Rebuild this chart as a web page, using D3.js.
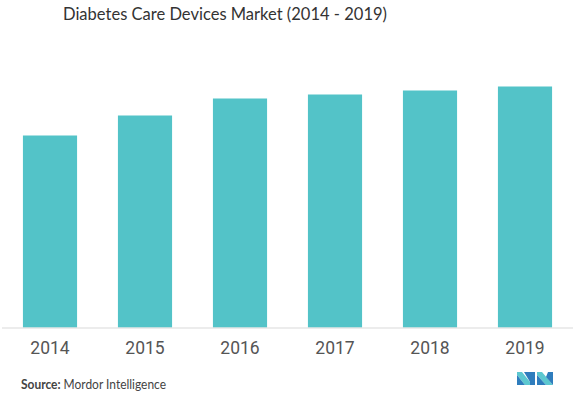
<!DOCTYPE html>
<html>
<head>
<meta charset="utf-8">
<script src="https://cdn.jsdelivr.net/npm/d3@7"></script>
<style>
  html, body { margin: 0; padding: 0; background: #fff; }
  svg { display: block; }
</style>
</head>
<body>
<div id="chart"></div>
<script>
// chart data (no y axis in the original, values read as relative bar heights)
const years = ['2014', '2015', '2016', '2017', '2018', '2019'];
const values = [19.2, 21.2, 22.9, 23.3, 23.7, 24.1];
const title = 'Diabetes Care Devices Market (2014 - 2019)';

const width = 576;
const height = 399;
const baseline = 327.5;

const svg = d3.select('#chart').append('svg')
  .attr('width', width)
  .attr('height', height);

const x = d3.scaleBand()
  .domain(years)
  .range([2.5, 572.5])
  .paddingInner(0.43)
  .paddingOuter(0.215);

const y = d3.scaleLinear()
  .domain([0, 30])
  .range([baseline, baseline - 300]);

// title
svg.append('text')
  .attr('x', 63)
  .attr('y', 20)
  .style('font', '18px Lato, "Open Sans", sans-serif')
  .attr('fill', '#333')
  .attr('textLength', 324)
  .attr('lengthAdjust', 'spacingAndGlyphs')
  .text(title);

// bars
svg.append('g')
  .selectAll('rect')
  .data(values)
  .join('rect')
  .attr('x', (d, i) => x(years[i]))
  .attr('y', d => y(d))
  .attr('width', x.bandwidth())
  .attr('height', d => y(0) - y(d))
  .attr('fill', '#53c3c8');

// baseline + year labels
const axis = svg.append('g')
  .attr('transform', `translate(0,${baseline})`)
  .call(d3.axisBottom(x).tickSize(0).tickPadding(14));

axis.select('.domain')
  .attr('stroke', '#d9d9d9')
  .attr('d', `M${2},0.5H${573}`);

axis.selectAll('.tick text')
  .style('font', '17.5px "Liberation Sans Narrow", "Roboto", sans-serif')
  .attr('fill', '#555');

// source line
const src = svg.append('text')
  .attr('x', 21)
  .attr('y', 389)
  .style('font', '12.5px Lato, "Open Sans", sans-serif')
  .attr('fill', '#444')
  .attr('textLength', 145)
  .attr('lengthAdjust', 'spacingAndGlyphs');
src.append('tspan').attr('font-weight', 'bold').text('Source:');
src.append('tspan').text(' Mordor Intelligence');

// logo
const logo = svg.append('g').attr('transform', 'translate(517,372)');
logo.append('path').attr('d', 'M0,0H5L13,10V13H8L0,3Z').attr('fill', '#5cc8d0');
logo.append('path').attr('d', 'M0,3L8,13H0Z').attr('fill', '#2f7dbd');
logo.append('path').attr('d', 'M10,0H18V13H13V10L7,0Z').attr('fill', '#2f7dbd');
logo.append('path').attr('d', 'M20,0H25L36,13H29L20,3Z').attr('fill', '#5cc8d0');
logo.append('path').attr('d', 'M20,3L29,13H20Z').attr('fill', '#2f7dbd');
logo.append('path').attr('d', 'M31,0H36V13L29,5Z').attr('fill', '#2f7dbd');
</script>
</body>
</html>
